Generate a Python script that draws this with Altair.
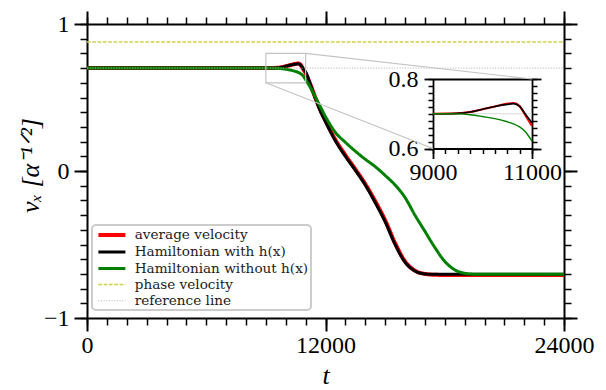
import altair as alt
import pandas as pd

# ---------------- data ----------------
t_vals = [0, 8000, 9000, 9250, 9500, 9750, 10000, 10250, 10500, 10625, 10750, 10875,
          11000, 11250, 11500, 11750, 12000, 12500, 13000, 13500, 14000, 14500, 15000,
          15500, 16000, 16500, 17000, 17500, 18000, 18500, 19000, 19500, 20000, 24000]

avg_velocity = [0.700, 0.700, 0.700, 0.7002, 0.7015, 0.705, 0.713, 0.721, 0.729, 0.731, 0.722, 0.694,
                0.665, 0.585, 0.495, 0.412, 0.342, 0.212, 0.108, 0.012, -0.088, -0.205, -0.335,
                -0.490, -0.615, -0.678, -0.700, -0.706, -0.707, -0.707, -0.707, -0.707, -0.707, -0.707]

ham_with_h = [0.700, 0.700, 0.700, 0.7002, 0.701, 0.705, 0.713, 0.721, 0.727, 0.729, 0.721, 0.697,
              0.674, 0.585, 0.490, 0.405, 0.335, 0.205, 0.100, 0.005, -0.095, -0.215, -0.345,
              -0.500, -0.620, -0.680, -0.700, -0.703, -0.703, -0.703, -0.703, -0.703, -0.703, -0.703]

ham_without_h = [0.700, 0.700, 0.700, 0.700, 0.6995, 0.697, 0.692, 0.686, 0.677, 0.671, 0.662, 0.647,
                 0.621, 0.565, 0.500, 0.435, 0.370, 0.262, 0.195, 0.135, 0.080, 0.030, -0.030,
                 -0.095, -0.180, -0.300, -0.410, -0.520, -0.615, -0.672, -0.696, -0.702, -0.703, -0.703]

series_names = ["average velocity", "Hamiltonian with h(x)", "Hamiltonian without h(x)",
                "phase velocity", "reference line"]
series_colors = ["#ff0000", "#000000", "#008000", "#d2cf48", "#b0b0b0"]
series_dash = [[1, 0], [1, 0], [1, 0], [3.7, 1.6], [1, 1.65]]
series_width = [4, 3, 3, 1.5, 1]

phase_velocity = 0.877
reference_value = 0.70
t_span = [0, 24000]
v_span = [-1, 1]

x_major = [0, 12000, 24000]
x_minor = list(range(0, 24001, 1000))
y_major = [-1, 0, 1]
y_minor = [round(-1 + 0.1 * i, 1) for i in range(21)]

inset_t = [9000, 11000]
inset_v = [0.6, 0.8]
inset_x_minor = list(range(9000, 11001, 250))
inset_y_minor = [round(0.6 + 0.02 * i, 2) for i in range(11)]

# ---------------- layout ----------------
W, H = 477, 294
INSET_X_RANGE = [346, 445]
INSET_Y_RANGE = [124.5, 55]
FONT = "Liberation Serif"

rows = []
for name, vals in zip(series_names[:3], [avg_velocity, ham_with_h, ham_without_h]):
    for t, v in zip(t_vals, vals):
        rows.append({"series": name, "t": t, "v": v})
for t in t_span:
    rows.append({"series": "phase velocity", "t": t, "v": phase_velocity})
for t in t_span:
    rows.append({"series": "reference line", "t": t, "v": reference_value})
df = pd.DataFrame(rows)

xs = alt.Scale(domain=t_span, nice=False, zero=False)
ys = alt.Scale(domain=v_span, nice=False, zero=False)

legend = alt.Legend(title=None, orient="none", legendX=5, legendY=201,
                    symbolType="M-0.6,0H3.9", symbolSize=144,
                    labelFont="DejaVu Serif", labelFontSize=13.6, labelColor="#222222", labelLimit=400,
                    labelOffset=24.7, padding=2, rowPadding=1.5,
                    fillColor="white", strokeColor="#cccccc", cornerRadius=4)

lines = alt.Chart(df).mark_line(interpolate="monotone").encode(
    x=alt.X("t:Q", scale=xs, axis=None),
    y=alt.Y("v:Q", scale=ys, axis=None),
    color=alt.Color("series:N", scale=alt.Scale(domain=series_names, range=series_colors), legend=legend),
    strokeDash=alt.StrokeDash("series:N", scale=alt.Scale(domain=series_names, range=series_dash), legend=legend),
    strokeWidth=alt.StrokeWidth("series:N", scale=alt.Scale(type="ordinal", domain=series_names, range=series_width), legend=legend),
)

zoom_df = pd.DataFrame({"t0": [inset_t[0]], "t1": [inset_t[1]], "v0": [inset_v[0]], "v1": [inset_v[1]]})
zoom_rect = alt.Chart(zoom_df).mark_rect(fill="transparent", stroke="#c4c4c4", strokeWidth=1.2).encode(
    x=alt.X("t0:Q", scale=xs, axis=None), x2="t1:Q",
    y=alt.Y("v0:Q", scale=ys, axis=None), y2="v1:Q")

conn_lo = alt.Chart(pd.DataFrame({"t": [inset_t[0]], "v": [inset_v[0]]})).mark_rule(
    stroke="#c4c4c4", strokeWidth=1.2).encode(
    x=alt.X("t:Q", scale=xs, axis=None), y=alt.Y("v:Q", scale=ys, axis=None),
    x2=alt.value(INSET_X_RANGE[0]), y2=alt.value(INSET_Y_RANGE[0]))
conn_hi = alt.Chart(pd.DataFrame({"t": [inset_t[1]], "v": [inset_v[1]]})).mark_rule(
    stroke="#c4c4c4", strokeWidth=1.2).encode(
    x=alt.X("t:Q", scale=xs, axis=None), y=alt.Y("v:Q", scale=ys, axis=None),
    x2=alt.value(INSET_X_RANGE[1]), y2=alt.value(INSET_Y_RANGE[1]))

axis_df = pd.DataFrame({"t": [0], "v": [0]})


def ax_layer(data, xsc, ysc, xaxis, yaxis):
    return alt.Chart(data).mark_point(opacity=0).encode(
        x=alt.X("t:Q", scale=xsc, axis=xaxis),
        y=alt.Y("v:Q", scale=ysc, axis=yaxis))


common = dict(labelFont=FONT, labelFontSize=24, labelFlush=False, labelOverlap=False, labelBound=False)

main_axes = [
    ax_layer(axis_df, xs, ys,
             alt.Axis(orient="bottom", values=x_major, format="d", tickSize=13, tickWidth=2, domainWidth=2,
                      labelPadding=2, title="t", titleFont=FONT, titleFontStyle="italic",
                      titleFontWeight="normal", titleFontSize=26, titleX=W / 2, titleY=65,
                      titleBaseline="alphabetic", titleAlign="center", **common),
             alt.Axis(orient="left", values=[y_major[0], y_major[2]], format="d", tickSize=13, tickWidth=2,
                      domainWidth=2, labelPadding=5, title="vₓ [α⁻¹ᐟ²]", titleFont=FONT,
                      titleFontStyle="italic", titleFontWeight="normal", titleFontSize=26, titleAngle=270,
                      titleX=-49, titleY=141, titleBaseline="alphabetic", titleAlign="center", **common)),
    ax_layer(axis_df, xs, ys,
             alt.Axis(orient="bottom", values=x_minor, tickSize=7, tickWidth=1.5, domain=False,
                      labels=False, title=None),
             alt.Axis(orient="left", values=y_minor, tickSize=7, tickWidth=1.5, domain=False,
                      labels=False, title=None)),
    ax_layer(axis_df, xs, ys,
             alt.Axis(orient="top", values=x_major, tickSize=13, tickWidth=2, domainWidth=2,
                      labels=False, title=None),
             alt.Axis(orient="right", values=y_major, tickSize=13, tickWidth=2, domainWidth=2,
                      labels=False, title=None)),
    ax_layer(axis_df, xs, ys,
             alt.Axis(orient="top", values=x_minor, tickSize=7, tickWidth=1.5, domain=False,
                      labels=False, title=None),
             alt.Axis(orient="right", values=y_minor, tickSize=7, tickWidth=1.5, domain=False,
                      labels=False, title=None)),
    ax_layer(axis_df, xs, ys,
             None,
             alt.Axis(orient="left", values=[y_major[1]], format="d", tickSize=13, tickWidth=2,
                      domain=False, labelPadding=5, title=None, **common)),
]

main = alt.layer(lines, zoom_rect, conn_lo, conn_hi, *main_axes).resolve_axis(x="independent", y="independent")

# ---------------- inset ----------------
ixs = alt.Scale(domain=inset_t, range=INSET_X_RANGE, nice=False, zero=False)
iys = alt.Scale(domain=inset_v, range=INSET_Y_RANGE, nice=False, zero=False)

df_in = df[(df["t"] >= inset_t[0]) & (df["t"] <= inset_t[1]) & (df["series"].isin(series_names[:3]))]
ref_in = pd.DataFrame({"t": inset_t, "v": [reference_value, reference_value]})

inset_layers = [
    alt.Chart(ref_in).mark_line(color="#d8d8d8", strokeWidth=1).encode(
        x=alt.X("t:Q", scale=ixs, axis=None), y=alt.Y("v:Q", scale=iys, axis=None))
]
for name, col, w in zip(series_names[:3], series_colors[:3], [2.2, 1.6, 1.4]):
    inset_layers.append(
        alt.Chart(df_in[df_in["series"] == name]).mark_line(interpolate="monotone", color=col, strokeWidth=w).encode(
            x=alt.X("t:Q", scale=ixs, axis=None), y=alt.Y("v:Q", scale=iys, axis=None)))

iaxis_df = pd.DataFrame({"t": [inset_t[0]], "v": [reference_value]})
off_b = -(H - INSET_Y_RANGE[0])
off_l = -INSET_X_RANGE[0]
off_r = -(W - INSET_X_RANGE[1])
off_t = -INSET_Y_RANGE[1]

inset_axes = [
    ax_layer(iaxis_df, ixs, iys,
             alt.Axis(orient="bottom", offset=off_b, values=inset_t, format="d", tickSize=10, tickWidth=1.8,
                      domainWidth=1.8, labelPadding=2, title=None, **common),
             alt.Axis(orient="left", offset=off_l, values=inset_v, format=".1f", tickSize=9, tickWidth=1.8,
                      domainWidth=1.8, labelPadding=6, title=None, **common)),
    ax_layer(iaxis_df, ixs, iys,
             alt.Axis(orient="bottom", offset=off_b, values=inset_x_minor, tickSize=5, tickWidth=1.5,
                      domain=False, labels=False, title=None),
             alt.Axis(orient="left", offset=off_l, values=inset_y_minor, tickSize=5, tickWidth=1.5,
                      domain=False, labels=False, title=None)),
    ax_layer(iaxis_df, ixs, iys,
             alt.Axis(orient="top", offset=off_t, values=inset_t, ticks=False, labels=False,
                      domainWidth=1.8, title=None),
             alt.Axis(orient="right", offset=off_r, values=inset_v, tickSize=9, tickWidth=1.8,
                      domainWidth=1.8, labels=False, title=None)),
    ax_layer(iaxis_df, ixs, iys,
             None,
             alt.Axis(orient="right", offset=off_r, values=inset_y_minor, tickSize=5, tickWidth=1.5,
                      domain=False, labels=False, title=None)),
]

inset = alt.layer(*inset_layers, *inset_axes).resolve_axis(x="independent", y="independent")

chart = alt.layer(main, inset).resolve_scale(x="independent", y="independent").properties(
    width=W, height=H,
    padding={"left": 79, "top": 16, "right": 34, "bottom": 72},
    autosize=alt.AutoSizeParams(type="none"),
).configure_view(stroke=None).configure_axis(
    grid=False, domainColor="black", tickColor="black", labelColor="black", titleColor="black"
).configure_legend(strokeWidth=2)

chart.save("out.html", embed_options={"renderer": "svg", "actions": False})
